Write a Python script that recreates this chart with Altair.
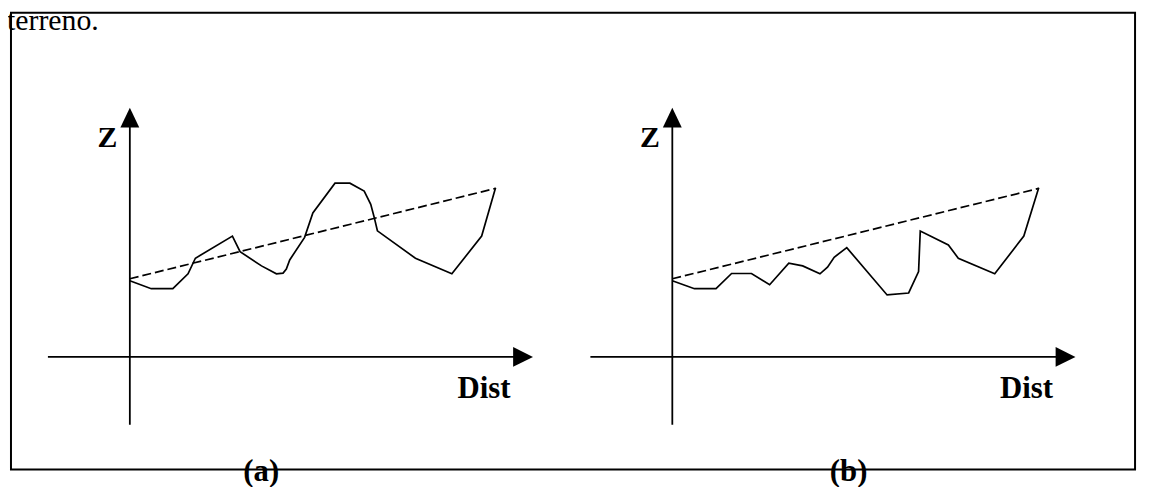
import altair as alt
import pandas as pd

# ---------------- data (distance / elevation, arbitrary units) ----------------
# Panel (a): terrain profile
a_dist = [0, 21.6, 43.3, 58.6, 66, 103.3, 111, 132.6, 147.6, 154.3, 157.6, 161,
          176, 184.3, 206.6, 221.6, 236, 242.6, 246, 249.3, 287.6, 324.3, 354.3, 368.3]
a_z = [76.7, 68.7, 68.7, 83.7, 99.4, 121.7, 106, 91.7, 83.7, 84.4, 88.4, 97.7,
       120.4, 145, 175, 175, 167, 153.7, 141, 127, 99.4, 83.7, 121.7, 170.4]
a_chord_dist = [0, 368.3]
a_chord_z = [78.7, 169.7]

# Panel (b): terrain profile
b_dist = [0, 22.3, 44, 59.7, 79.7, 98, 117.3, 131.3, 148.7, 156.3, 163, 175.7,
          216.3, 238, 248, 249.7, 278, 288, 324.7, 354, 369]
b_z = [76.7, 68.7, 68.7, 84, 84, 72.7, 94.4, 91.7, 83.7, 90.4, 100.4, 110,
       62.4, 64.4, 86, 126.7, 112.7, 99.4, 83.7, 121.7, 170.4]
b_chord_dist = [0, 369]
b_chord_z = [78.7, 169.7]

axis_labels = ["Z", "Dist"]
captions = ["(a)", "(b)"]
heading = "terreno."

FONT = "Liberation Serif"
Y_DOMAIN = [-113.3, 346.7]

UP_ARROW = "M0,-1L0.95,1L-0.95,1Z"
RIGHT_ARROW = "M1,0L-1,-1L-1,1Z"


def panel(dist, z, cdist, cz, x_domain, caption, caption_x):
    xs = alt.Scale(domain=x_domain, nice=False, zero=False)
    ys = alt.Scale(domain=Y_DOMAIN, nice=False, zero=False)
    one = alt.Data(values=[{}])

    profile = alt.Chart(pd.DataFrame({"dist": dist, "z": z})).mark_line(
        color="black", strokeWidth=1.7
    ).encode(
        x=alt.X("dist:Q", scale=xs, axis=None),
        y=alt.Y("z:Q", scale=ys, axis=None),
    )
    chord = alt.Chart(pd.DataFrame({"dist": cdist, "z": cz})).mark_line(
        color="black", strokeWidth=1.7, strokeDash=[9, 4]
    ).encode(
        x=alt.X("dist:Q", scale=xs, axis=None),
        y=alt.Y("z:Q", scale=ys, axis=None),
    )
    z_axis = alt.Chart(one).mark_rule(color="black", strokeWidth=1.8).encode(
        x=alt.X(datum=0, scale=xs, axis=None),
        y=alt.Y(datum=-68.3, scale=ys, axis=None),
        y2=alt.datum(236),
    )
    d_axis = alt.Chart(one).mark_rule(color="black", strokeWidth=1.8).encode(
        x=alt.X(datum=-82.5, scale=xs, axis=None),
        x2=alt.datum(390),
        y=alt.Y(datum=0, scale=ys, axis=None),
    )
    z_head = alt.Chart(one).mark_point(
        shape=UP_ARROW, size=400, filled=True, color="black", opacity=1
    ).encode(
        x=alt.X(datum=0, scale=xs, axis=None),
        y=alt.Y(datum=241, scale=ys, axis=None),
    )
    d_head = alt.Chart(one).mark_point(
        shape=RIGHT_ARROW, size=400, filled=True, color="black", opacity=1
    ).encode(
        x=alt.X(datum=396, scale=xs, axis=None),
        y=alt.Y(datum=0, scale=ys, axis=None),
    )
    z_lab = alt.Chart(one).mark_text(
        text=axis_labels[0], font=FONT, fontWeight="bold", fontSize=30,
        align="right", baseline="alphabetic", color="black"
    ).encode(
        x=alt.X(datum=-12.5, scale=xs, axis=None),
        y=alt.Y(datum=211, scale=ys, axis=None),
    )
    d_lab = alt.Chart(one).mark_text(
        text=axis_labels[1], font=FONT, fontWeight="bold", fontSize=31,
        align="right", baseline="alphabetic", color="black"
    ).encode(
        x=alt.X(datum=383.4, scale=xs, axis=None),
        y=alt.Y(datum=-41.6, scale=ys, axis=None),
    )
    cap = alt.Chart(one).mark_text(
        text=caption, font=FONT, fontWeight="bold", fontSize=31,
        align="center", baseline="alphabetic", color="black"
    ).encode(
        x=alt.X(datum=caption_x, scale=xs, axis=None),
        y=alt.Y(datum=-125.3, scale=ys, axis=None),
    )
    return alt.layer(d_axis, z_axis, chord, profile, z_head, d_head, z_lab, d_lab, cap)


panel_a = panel(a_dist, a_z, a_chord_dist, a_chord_z, [-119.7, 1012.3], captions[0], 132.3)
panel_b = panel(b_dist, b_z, b_chord_dist, b_chord_z, [-666, 466], captions[1], 177.5)

head = alt.Chart(alt.Data(values=[{}])).mark_text(
    text=heading, font=FONT, fontSize=30, align="left", baseline="alphabetic", color="black"
).encode(x=alt.value(-4), y=alt.value(17.5))

chart = alt.layer(panel_a, panel_b, head).resolve_scale(
    x="independent"
).properties(
    width=1132,
    height=460,
    padding={"left": 3, "top": 3, "right": 7, "bottom": 16},
    autosize=alt.AutoSizeParams(type="none"),
    background="white",
).configure_view(stroke="black", strokeWidth=2)

chart.save("out.html", embed_options={"renderer": "svg", "actions": False})
